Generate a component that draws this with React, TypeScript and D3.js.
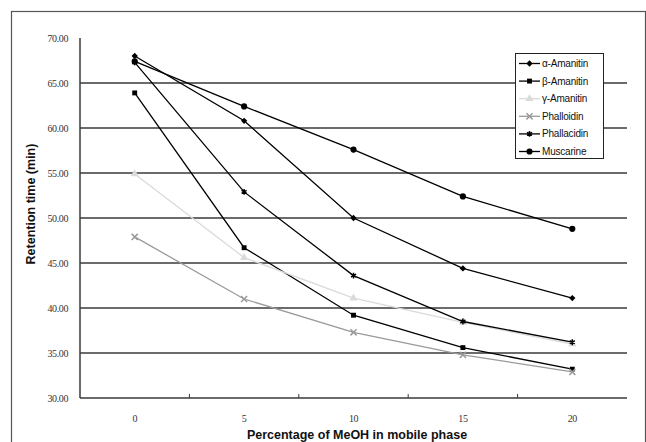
import React from 'react';
import * as d3 from 'd3';

// % MeOH in the mobile phase
const categories = ['0', '5', '10', '15', '20'];
const yTicks = [30, 35, 40, 45, 50, 55, 60, 65, 70];

// retention times (min)
const alphaAmanitin = [68.0, 60.8, 50.0, 44.4, 41.1];
const betaAmanitin = [63.9, 46.7, 39.2, 35.6, 33.2];
const gammaAmanitin = [54.9, 45.6, 41.1, 38.4, 36.0];
const phalloidin = [47.9, 41.0, 37.3, 34.8, 32.9];
const phallacidin = [67.3, 52.9, 43.6, 38.5, 36.2];
const muscarine = [67.4, 62.4, 57.6, 52.4, 48.8];

const series = [
  { name: 'α-Amanitin', values: alphaAmanitin, color: '#000', symbol: d3.symbolSquare, size: 20, rotate: 45, filled: true },
  { name: 'β-Amanitin', values: betaAmanitin, color: '#000', symbol: d3.symbolSquare, size: 24, rotate: 0, filled: true },
  { name: 'γ-Amanitin', values: gammaAmanitin, color: '#dadada', symbol: d3.symbolTriangle, size: 28, rotate: 0, filled: true },
  { name: 'Phalloidin', values: phalloidin, color: '#9a9a9a', symbol: d3.symbolTimes, size: 26, rotate: 0, filled: false },
  { name: 'Phallacidin', values: phallacidin, color: '#000', symbol: d3.symbolAsterisk, size: 24, rotate: 0, filled: false },
  { name: 'Muscarine', values: muscarine, color: '#000', symbol: d3.symbolCircle, size: 30, rotate: 0, filled: true },
];

const W = 646;
const H = 442;

const App = () => {
  const x = d3.scaleBand().domain(categories).range([80, 627]);
  const y = d3.scaleLinear().domain([30, 70]).range([398, 38]);
  const cx = (c: string) => (x(c) ?? 0) + x.bandwidth() / 2;

  const line = d3.line<number>()
    .x((_, i) => cx(categories[i]))
    .y(d => y(d));

  const marker = (s: any, i: number, tx: number, ty: number) => {
    const p = d3.symbol().type(s.symbol).size(s.size)();
    return (
      <path key={i} d={p ?? ''} transform={`translate(${tx},${ty}) rotate(${s.rotate})`}
        fill={s.filled ? s.color : 'none'} stroke={s.color}
        strokeWidth={s.filled ? 0 : 1.5} />
    );
  };

  const legendX = 515;
  const legendY = 53;

  return (
    <svg width={W} height={H} style={{ position: 'absolute', left: 0, top: 0 }}>
      <rect x={0} y={0} width={W} height={H} fill="#fff" />
      {/* outer chart frame */}
      <rect x={11.5} y={11.5} width={634} height={450} fill="none" stroke="#555" strokeWidth={1.2} />

      {/* gridlines */}
      {yTicks.slice(1, -1).map(t => (
        <line key={t} x1={80} x2={627} y1={y(t)} y2={y(t)} stroke="#3a3a3a" strokeWidth={1.5} />
      ))}
      {/* axes */}
      <line x1={80} x2={80} y1={y(70)} y2={y(30)} stroke="#3a3a3a" strokeWidth={1.5} />
      <line x1={80} x2={627} y1={y(30)} y2={y(30)} stroke="#3a3a3a" strokeWidth={1.5} />
      {categories.slice(1).map(c => (
        <line key={c} x1={x(c)} x2={x(c)} y1={y(30)} y2={y(30) - 4} stroke="#3a3a3a" strokeWidth={1} />
      ))}

      {/* y tick labels */}
      {yTicks.map(t => (
        <text key={t} x={68} y={y(t) + 3.5} textAnchor="end" fontFamily="Liberation Serif" fontSize={10}
          letterSpacing={-0.4} fill="#333">{t.toFixed(2)}</text>
      ))}
      {/* x tick labels */}
      {categories.map(c => (
        <text key={c} x={cx(c)} y={422} textAnchor="middle" fontFamily="Liberation Serif" fontSize={10}
          letterSpacing={-0.4} fill="#333">{c}</text>
      ))}

      {/* axis titles */}
      <text x={357} y={439} textAnchor="middle" fontFamily="Liberation Sans" fontWeight="bold" fontSize={12.5}
        fill="#111">Percentage of MeOH in mobile phase</text>
      <text transform="translate(35,204) rotate(-90)" textAnchor="middle" fontFamily="Liberation Sans"
        fontWeight="bold" fontSize={12.5} fill="#111">Retention time (min)</text>

      {/* series */}
      {series.map(s => (
        <g key={s.name}>
          <path d={line(s.values) ?? ''} fill="none" stroke={s.color} strokeWidth={1.3} />
          {s.values.map((v, i) => marker(s, i, cx(categories[i]), y(v)))}
        </g>
      ))}

      {/* legend */}
      <rect x={legendX + 0.5} y={legendY + 0.5} width={88} height={105} fill="#fff" stroke="#222" strokeWidth={1} />
      {series.map((s, i) => {
        const ly = legendY + 10.5 + i * 17.6;
        return (
          <g key={s.name}>
            <line x1={legendX + 4} x2={legendX + 25} y1={ly} y2={ly} stroke={s.color} strokeWidth={1.3} />
            {marker(s, 99, legendX + 14.5, ly)}
            <text x={legendX + 27} y={ly + 3.5} fontFamily="Liberation Sans" fontSize={10} letterSpacing={-0.2}
              fill="#111">{s.name}</text>
          </g>
        );
      })}
    </svg>
  );
};

export default App;
